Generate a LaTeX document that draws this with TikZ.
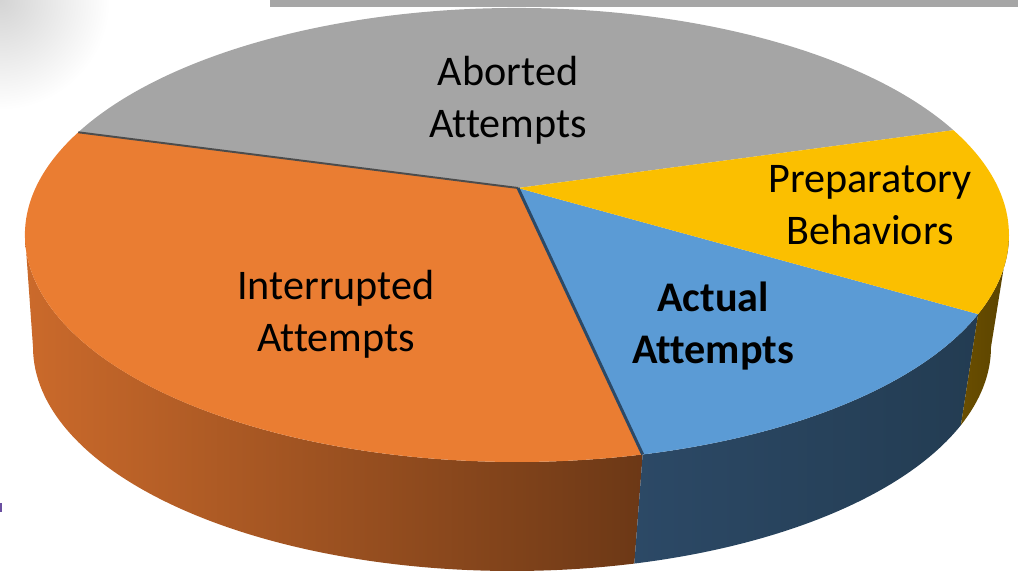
\documentclass[tikz,border=0pt]{standalone}
\usepackage{fontspec}
\setmainfont{Carlito}[Ligatures=NoCommon]
\usetikzlibrary{calc}

\definecolor{abortgray}{HTML}{A5A5A5}
\definecolor{interorange}{HTML}{EA7D32}
\definecolor{actualblue}{HTML}{5B9BD5}
\definecolor{prepyellow}{HTML}{FBBF00}
\definecolor{orangeside1}{HTML}{CB6A2B}
\definecolor{orangeside2}{HTML}{6C3816}
\definecolor{blueside1}{HTML}{2C4966}
\definecolor{blueside2}{HTML}{233C52}
\definecolor{yellowside1}{HTML}{6A4E00}
\definecolor{yellowside2}{HTML}{5A4300}
\definecolor{barGray}{HTML}{A6A6A6}
\definecolor{markViolet}{HTML}{6A4FA0}

\begin{document}
\begin{tikzpicture}[
  x = 0.02cm, y = 0.02cm,
  lbl/.style  = {align=center, font=\fontsize{24}{29.5}\selectfont},
  blbl/.style = {lbl, font=\fontsize{24}{29.5}\selectfont\bfseries},
  cut/.style  = {line width=1.1pt},
]
  \useasboundingbox (0,0) rectangle (1018,571);

  % slide leftovers
  \shade[inner color=black!17, outer color=white] (0,571) circle (110);
  \fill[barGray] (270,564) rectangle (1018,571);
  \fill[markViolet] (0,59) rectangle (2,68);

  \coordinate (top) at (517,336);
  \coordinate (bot) at (512,224);
  \coordinate (ctr) at (518,383);

  % side walls
  \foreach \a/\b/\ca/\cb in {180/284.8/orangeside1/orangeside2,
                             284.8/339.6/blueside1/blueside2,
                             339.6/360/yellowside1/yellowside2}{
    \shade[left color=\ca, right color=\cb]
      ($(top)+(\a:492 and 227)$)
        arc[start angle=\a, end angle=\b, x radius=492, y radius=227]
      -- ($(bot)+(\b:479 and 224)$)
        arc[start angle=\b, end angle=\a, x radius=479, y radius=224]
      -- cycle;
  }

  % top faces
  \foreach \a/\b/\c in {27.5/153.1/abortgray, 153.1/284.8/interorange,
                        -75.2/-20.4/actualblue, -20.4/27.5/prepyellow}{
    \fill[\c] (ctr) -- ($(top)+(\a:492 and 227)$)
      arc[start angle=\a, end angle=\b, x radius=492, y radius=227] -- cycle;
  }

  \coordinate (go) at ($(top)+(153.1:492 and 227)$);
  \coordinate (bo) at ($(top)+(284.8:492 and 227)$);
  \draw[cut, black!70] (ctr) -- (go);
  \draw[cut, blueside1, line width=1.7pt] (ctr) -- (bo);

  \node[lbl]  (aborted) at (508,471) {Aborted\\Attempts};
  \node[lbl]  (prep)    at (870,366) {Preparatory\\Behaviors};
  \node[lbl]  (inter)   at (336,257) {Interrupted\\Attempts};
  \node[blbl] (actual)  at (713,245) {Actual\\Attempts};
\end{tikzpicture}
\end{document}
